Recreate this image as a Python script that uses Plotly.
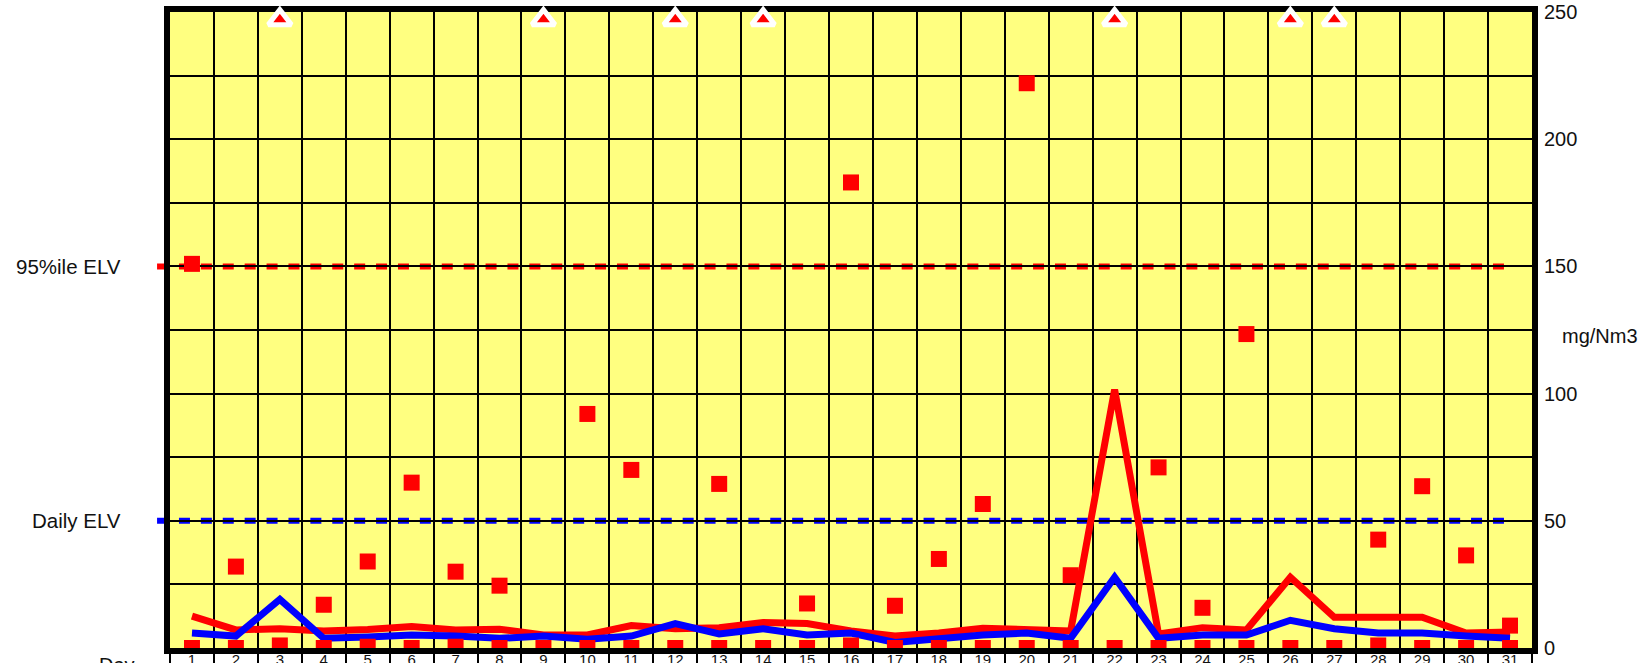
import plotly.graph_objects as go

# ---------------- data ----------------
days = list(range(1, 32))
day_labels = [str(d) for d in days]

# red squares (daily peak values); None where the value is off the scale
peak_values = [151, 32, None, 17, 34, 65, 30, 24.5, None, 92, 70, None, 64.5, None,
               17.5, 183, 16.6, 35, 56.6, 222, 28.6, None, 71, 15.8, 123.4, None,
               None, 42.6, 63.6, 36.4, 8.8]
# days whose value exceeds the axis maximum (shown as triangles at the top)
offscale_days = [3, 9, 12, 14, 22, 26, 27]
offscale_level = 247

# red squares sitting on the baseline (daily minimum values)
min_values = [0, 0, 1, 0, 0.5, 0, 0.5, 0, 0, 0, 0, 0, 0, 0, 0, 1, 0, 0, 0, 0,
              0, 0, 0, 0, 0, 0, 0, 1, 0, 0, 0]

# red line
red_line = [12.5, 7.1, 7.6, 6.7, 7.3, 8.4, 7.1, 7.4, 5.1, 5.1, 8.8, 7.6, 8.0, 10.0,
            9.6, 6.7, 4.7, 5.9, 7.8, 7.4, 6.7, 101.6, 5.5, 8.0, 7.1, 27.8, 12.1,
            12.1, 12.1, 5.9, 6.3]
# blue line
blue_line = [5.9, 4.7, 19.1, 3.8, 4.3, 5.1, 4.7, 3.8, 4.7, 3.4, 4.7, 9.6, 5.5, 7.6,
             5.1, 5.9, 2.2, 3.8, 5.1, 5.9, 3.8, 27.8, 3.8, 5.1, 5.1, 10.9, 7.6,
             5.9, 5.9, 4.7, 3.8]

y_ticks = [0, 50, 100, 150, 200, 250]
y_tick_labels = ["0", "50", "100", "150", "200", "250"]

elv_95 = 150
elv_daily = 50
elv_labels = ["95%ile ELV", "Daily ELV"]
unit_label = "mg/Nm3"
x_title = "Day"

FONT = "Liberation Sans, Arial, sans-serif"

fig = go.Figure()

fig.add_trace(go.Scatter(x=days, y=red_line, mode="lines",
                         line=dict(color="#FF0000", width=7), showlegend=False,
                         hoverinfo="skip"))
fig.add_trace(go.Scatter(x=days, y=blue_line, mode="lines",
                         line=dict(color="#0000FF", width=7), showlegend=False,
                         hoverinfo="skip"))
fig.add_trace(go.Scatter(x=days, y=min_values, mode="markers",
                         marker=dict(symbol="square", size=16, color="#FF0000"),
                         cliponaxis=True, showlegend=False))
fig.add_trace(go.Scatter(x=days, y=peak_values, mode="markers",
                         marker=dict(symbol="square", size=16, color="#FF0000"),
                         cliponaxis=False, showlegend=False))
fig.add_trace(go.Scatter(x=offscale_days, y=[offscale_level] * len(offscale_days),
                         mode="markers",
                         marker=dict(symbol="triangle-up", size=20, color="#FF0000",
                                     line=dict(color="white", width=5)),
                         cliponaxis=False, showlegend=False))

# ELV dashed reference lines
for val, col in ((elv_95, "#FF0000"), (elv_daily, "#0000FF")):
    fig.add_shape(type="line", xref="paper", yref="y", x0=-0.0095, x1=0.985,
                  y0=val, y1=val, layer="between",
                  line=dict(color=col, width=6, dash="11px,10.9px"))

for txt, val in zip(elv_labels, (elv_95, elv_daily)):
    fig.add_annotation(text=txt, xref="paper", yref="y", x=-0.0345, y=val,
                       xanchor="right", yanchor="middle", showarrow=False,
                       font=dict(family=FONT, size=20.5, color="#111111"))

fig.add_annotation(text=unit_label, xref="paper", yref="paper", x=1.05, y=0.491,
                   xanchor="center", yanchor="middle", showarrow=False,
                   font=dict(family=FONT, size=20, color="#111111"))
fig.add_annotation(text=x_title, xref="paper", yref="paper", x=-0.0389, y=-0.007,
                   xanchor="center", yanchor="top", showarrow=False,
                   font=dict(family=FONT, size=20, color="#111111"))

fig.update_layout(
    width=1649, height=663,
    margin=dict(l=170, r=117, t=12, b=15, autoexpand=False),
    paper_bgcolor="white", plot_bgcolor="#FFFF80",
    font=dict(family=FONT, size=20, color="#111111"),
    showlegend=False,
    xaxis=dict(range=[0.5, 31.5], tickvals=days, ticktext=day_labels,
               showgrid=False, zeroline=False, ticks="", automargin=False,
               ticklabelstandoff=-7, ticklabeloverflow="allow",
               tickfont=dict(size=15, family=FONT, color="#111111"),
               showline=True, linecolor="black", linewidth=6, mirror=True,
               layer="below traces",
               minor=dict(tick0=0.5, dtick=1, showgrid=True, gridcolor="black",
                          gridwidth=2, ticks="outside", ticklen=12,
                          tickcolor="black", tickwidth=2)),
    yaxis=dict(range=[0, 250], side="right", tickvals=y_ticks,
               ticktext=y_tick_labels, showgrid=True, gridcolor="black",
               gridwidth=2, zeroline=False, ticks="", automargin=False,
               ticklabelstandoff=2, ticklabeloverflow="allow",
               tickfont=dict(size=20, family=FONT, color="#111111"),
               showline=True, linecolor="black", linewidth=6, mirror=True,
               layer="below traces",
               minor=dict(dtick=25, showgrid=True, gridcolor="black",
                          gridwidth=2)),
)

fig.write_html("out.html",
               config={"displayModeBar": False},
               post_script="document.body.style.margin='0';"
                           "document.body.style.overflow='hidden';")
